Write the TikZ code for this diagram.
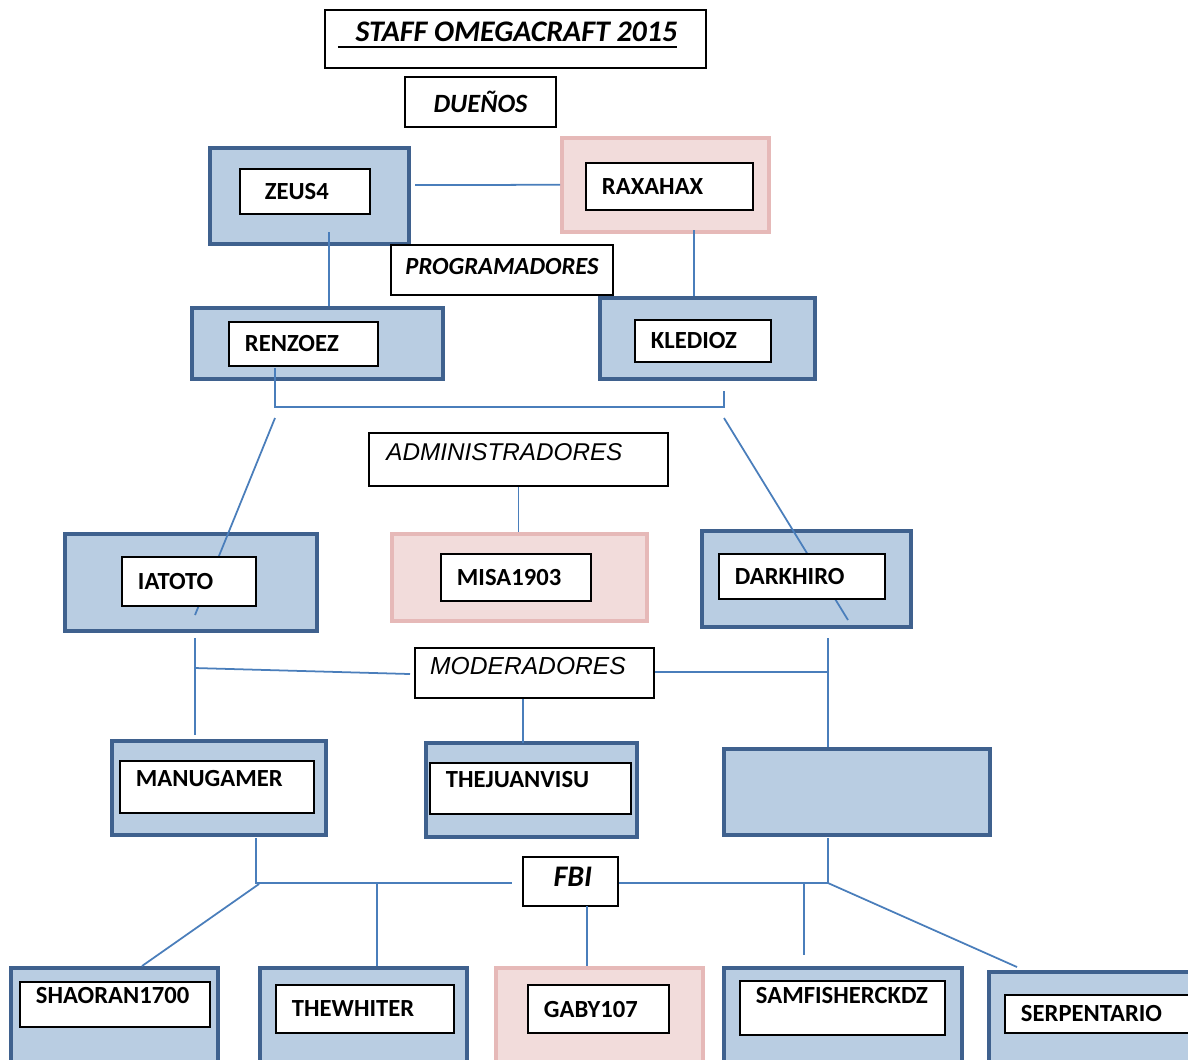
\documentclass[tikz,border=0pt]{standalone}
\usepackage{fontspec}
\setmainfont{Carlito}
\newfontfamily\arialfont{Liberation Sans}
\definecolor{boxblue}{HTML}{B9CDE2}
\definecolor{edgeblue}{HTML}{3F618E}
\definecolor{boxpink}{HTML}{F2DCDB}
\definecolor{edgepink}{HTML}{E6B9B8}
\definecolor{linkblue}{HTML}{4A7EBB}
\begin{document}
\begin{tikzpicture}[x=0.01cm,y=-0.01cm,
    bluebox/.style={draw=edgeblue, fill=boxblue, line width=1pt, anchor=north west, inner sep=0pt},
    pinkbox/.style={draw=edgepink, fill=boxpink, line width=1pt, anchor=north west, inner sep=0pt},
    namebox/.style={draw=black, fill=white, line width=0.55pt, anchor=north west, inner xsep=0.16cm,
        inner ysep=0pt, align=left, font=\fontsize{7}{8}\selectfont\bfseries},
    rolebox/.style={draw=black, fill=white, line width=0.55pt, inner sep=0pt},
    link/.style={draw=linkblue, line width=0.5pt}]
    \useasboundingbox (0,0) rectangle (1188,1059);

    % titles
    \node[rolebox, minimum width=3.81cm, minimum height=0.58cm, font=\fontsize{8.5}{9}\selectfont\bfseries\itshape] (title) at (515.5,39) {\underline{\hspace{5pt}STAFF OMEGACRAFT 2015}\hspace{4.5pt}\rule[-4pt]{0pt}{1pt}};
    \node[rolebox, minimum width=1.51cm, minimum height=0.50cm, font=\fontsize{7.5}{9}\selectfont\bfseries\itshape] (duenos) at (480.5,102) {DUEÑOS};

    % background boxes
    \node[bluebox, minimum width=1.99cm, minimum height=0.96cm] (zeusbg) at (208,146) {};
    \node[pinkbox, minimum width=2.07cm, minimum height=0.94cm] (raxbg) at (560,136) {};
    \node[bluebox, minimum width=2.51cm, minimum height=0.71cm] (renzobg) at (190,306) {};
    \node[bluebox, minimum width=2.15cm, minimum height=0.81cm] (kledbg) at (598,296) {};
    \node[bluebox, minimum width=2.52cm, minimum height=0.97cm] (iatobg) at (63,532) {};
    \node[pinkbox, minimum width=2.55cm, minimum height=0.87cm] (misabg) at (390,532) {};
    \node[bluebox, minimum width=2.09cm, minimum height=0.96cm] (darkbg) at (700,529) {};
    \node[bluebox, minimum width=2.14cm, minimum height=0.94cm] (manubg) at (110,739) {};
    \node[bluebox, minimum width=2.11cm, minimum height=0.94cm] (juanbg) at (424,741) {};
    \node[bluebox, minimum width=2.66cm, minimum height=0.86cm] (emptybg) at (722,747) {};
    \node[bluebox, minimum width=2.07cm, minimum height=1.00cm] (shaobg) at (9,966) {};
    \node[bluebox, minimum width=2.07cm, minimum height=1.00cm] (whitbg) at (258,966) {};
    \node[pinkbox, minimum width=2.07cm, minimum height=1.00cm] (gabybg) at (494,966) {};
    \node[bluebox, minimum width=2.38cm, minimum height=1.00cm] (sambg) at (722,966) {};
    \node[bluebox, minimum width=2.10cm, minimum height=1.00cm] (serpbg) at (987,970) {};

    % joints
    \coordinate (zeusout) at (415,185);
    \coordinate (zeusdrop) at (329,232);
    \coordinate (raxdrop) at (694,230);
    \coordinate (progleft) at (275,368);
    \coordinate (progright) at (724,391);
    \coordinate (adminleft) at (275,418);
    \coordinate (adminright) at (724,418);
    \coordinate (iatoend) at (195,615);
    \coordinate (darkend) at (848,620);
    \coordinate (modleft) at (195,638);
    \coordinate (modright) at (828,638);
    \coordinate (fbileft) at (256,838);
    \coordinate (fbiright) at (828,838);
    \coordinate (fbijoin) at (828,883);
    \coordinate (whitdrop) at (377,883);
    \coordinate (gabydrop) at (587,906);
    \coordinate (modjoin) at (828,672);

    % connectors
    \draw[link] (zeusout) -- (raxbg.west);
    \draw[link] (zeusdrop) -- (zeusdrop |- renzobg.north);
    \draw[link] (raxdrop) -- (raxdrop |- kledbg.north);
    \draw[link] (progleft) -- (275,407) -- (724,407) -- (progright);
    \draw[link] (adminleft) -- (iatoend);
    \draw[link] (adminright) -- (darkend);
    \draw[link] (modleft) -- (195,735);
    \draw[link] (195,668) -- (410,674);
    \draw[link] (modright) -- (modright |- emptybg.north);
    \draw[link] (523,743) -- (523,698);
    \draw[link] (fbileft) -- (256,883) -- (512,883);
    \draw[link] (fbiright) -- (fbijoin);
    \draw[link] (whitdrop) -- (whitdrop |- whitbg.north);
    \draw[link] (259,884) -- (142,966);
    \draw[link] (804,883) -- (804,955);
    \draw[link] (fbijoin) -- (1017,967);

    % section boxes
    \node[rolebox, minimum width=2.22cm, minimum height=0.50cm, font=\fontsize{7}{9}\selectfont\bfseries\itshape] (prog) at (502,270) {PROGRAMADORES\rule[-2pt]{0pt}{1pt}};
    \node[rolebox, minimum width=2.99cm, minimum height=0.53cm, font=\fontsize{6.9}{8}\selectfont\arialfont\itshape] (admin) at (518.5,459.5) {ADMINISTRADORES\hspace{8pt}\rule[-4.5pt]{0pt}{1pt}};
    \node[rolebox, minimum width=2.39cm, minimum height=0.50cm, font=\fontsize{7}{8}\selectfont\arialfont\itshape] (moder) at (534.5,673) {MODERADORES\hspace{3.7pt}\rule[-4pt]{0pt}{1pt}};
    \node[rolebox, minimum width=0.95cm, minimum height=0.49cm, font=\fontsize{8.5}{9}\selectfont\bfseries\itshape] (fbi) at (570.5,881.5) {\hspace{1.4pt}FBI\rule[-2.5pt]{0pt}{1pt}};
    \draw[link] (admin.south) -- (admin.south |- misabg.north);
    \draw[link] (moder.east |- modjoin) -- (modjoin);
    \draw[link] (fbi.east |- fbijoin) -- (fbijoin);
    \draw[link] (gabydrop) -- (gabydrop |- gabybg.north);

    % names
    \node[namebox, text width=0.98cm, minimum height=0.45cm] (zeus) at (239,168) {\hspace{2.5pt}ZEUS4};
    \node[namebox, text width=1.35cm, minimum height=0.47cm] (raxahax) at (585,162) {RAXAHAX};
    \node[namebox, text width=1.17cm, minimum height=0.44cm] (renzoez) at (228,321) {RENZOEZ};
    \node[namebox, text width=1.04cm, minimum height=0.42cm] (kledioz) at (634,319) {KLEDIOZ};
    \node[namebox, text width=1.02cm, minimum height=0.49cm] (iatoto) at (121,556) {IATOTO};
    \node[namebox, text width=1.18cm, minimum height=0.47cm] (misa) at (440,553) {MISA1903};
    \node[namebox, text width=1.34cm, minimum height=0.45cm] (darkhiro) at (718,553) {DARKHIRO};
    \node[namebox, text width=1.62cm, minimum height=0.52cm] (manugamer) at (119,760) {MANUGAMER\rule[-5pt]{0pt}{1pt}};
    \node[namebox, text width=1.69cm, minimum height=0.51cm] (juanvisu) at (429,762) {THEJUANVISU\rule[-5pt]{0pt}{1pt}};
    \node[namebox, text width=1.58cm, minimum height=0.45cm] (shaoran) at (19,981) {SHAORAN1700\rule[-5pt]{0pt}{1pt}};
    \node[namebox, text width=1.46cm, minimum height=0.48cm] (thewhiter) at (275,984) {THEWHITER};
    \node[namebox, text width=1.09cm, minimum height=0.48cm] (gaby) at (527,984) {GABY107};
    \node[namebox, text width=1.73cm, minimum height=0.54cm] (samfisher) at (739,980) {SAMFISHERCKDZ\rule[-7pt]{0pt}{1pt}};
    \node[namebox, text width=1.68cm, minimum height=0.38cm] (serpentario) at (1004,994) {SERPENTARIO};
\end{tikzpicture}
\end{document}
